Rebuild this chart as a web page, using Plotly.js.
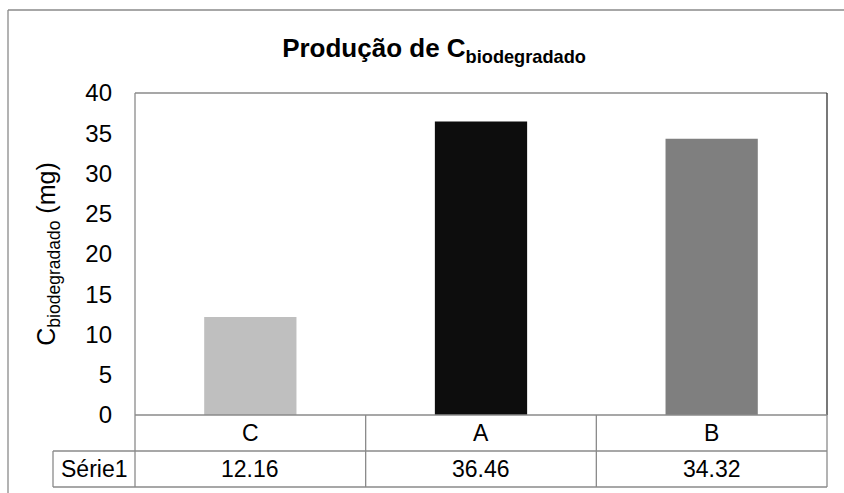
<!DOCTYPE html>
<html><head><meta charset="utf-8">
<script src="https://cdn.plot.ly/plotly-3.0.1.min.js"></script>
<style>html,body{margin:0;padding:0;background:#fff}#chart{width:844px;height:493px}</style>
</head><body><div id="chart"></div>
<script>
const categories = ['C', 'A', 'B'];
const values = [12.16, 36.46, 34.32];
const barColors = ['#BFBFBF', '#0D0D0D', '#7F7F7F'];
const seriesName = 'Série1';
const titleMain = 'Produção de C';
const titleSub = 'biodegradado';
const yTitleMain = 'C';
const yTitleSub = 'biodegradado';
const yUnit = ' (mg)';

const W = 844, H = 493;
const L = 135, R = 17, T = 93, B = 78;
const pw = W - L - R, ph = H - T - B;
const px = x => (x - L) / pw;
const py = y => (H - B - y) / ph;
const gridCol = '#8a8a8a';
const font = 'Arial, Liberation Sans, sans-serif';

const shapes = [];
function line(x0, y0, x1, y1, c, w) {
  shapes.push({type: 'line', xref: 'paper', yref: 'paper', x0: px(x0), y0: py(y0), x1: px(x1), y1: py(y1),
    line: {color: c || gridCol, width: w || 1.3}});
}
// outer frame
line(8, 10, 850, 10);
line(8, 10, 8, 500);
// plot area border
line(135, 93, 827, 93);
line(827, 93, 827, 415, '#303030');
line(135, 93, 135, 487);
// table
const rowTop = 415, rowMid = 451, rowBot = 487, labelLeft = 53;
line(135, rowTop, 827, rowTop);
line(labelLeft, rowMid, 827, rowMid);
line(labelLeft, rowBot, 827, rowBot);
line(labelLeft, rowMid, labelLeft, rowBot);
const colW = pw / categories.length;
for (let i = 1; i <= categories.length; i++) line(L + colW * i, rowTop, L + colW * i, rowBot);

const annotations = [];
categories.forEach((c, i) => {
  annotations.push({xref: 'x', yref: 'paper', x: c, y: py((rowTop + rowMid) / 2), text: c, showarrow: false,
    font: {family: font, size: 23, color: '#000'}, xanchor: 'center', yanchor: 'middle'});
  annotations.push({xref: 'x', yref: 'paper', x: c, y: py((rowMid + rowBot) / 2), text: String(values[i]), showarrow: false,
    font: {family: font, size: 23, color: '#000'}, xanchor: 'center', yanchor: 'middle'});
});
annotations.push({xref: 'paper', yref: 'paper', x: px((labelLeft + 135) / 2), y: py((rowMid + rowBot) / 2), text: seriesName,
  showarrow: false, font: {family: font, size: 23, color: '#000'}, xanchor: 'center', yanchor: 'middle'});

const data = [{
  type: 'bar', x: categories, y: values, name: seriesName,
  marker: {color: barColors, line: {width: 0}}, hoverinfo: 'none'
}];

const layout = {
  width: W, height: H,
  margin: {l: L, r: R, t: T, b: B, pad: 0},
  paper_bgcolor: '#fff', plot_bgcolor: '#fff',
  showlegend: false,
  bargap: 0.6,
  title: {text: '<b>' + titleMain + '<sub>' + titleSub + '</sub></b>', x: 434 / W, xanchor: 'center',
    y: 1 - 48 / H, yanchor: 'middle', yref: 'container', xref: 'container',
    font: {family: font, size: 26, color: '#000'}},
  xaxis: {type: 'category', showticklabels: false, ticks: '', showgrid: false, zeroline: false, showline: false,
    range: [-0.5, categories.length - 0.5]},
  yaxis: {range: [0, 40], dtick: 5, tick0: 0, showgrid: false, zeroline: false, showline: false,
    ticks: '', ticklabelstandoff: 22,
    tickfont: {family: font, size: 24, color: '#000'},
    title: {text: yTitleMain + '<sub>' + yTitleSub + '</sub>' + yUnit, standoff: 22,
      font: {family: font, size: 25, color: '#000'}}},
  shapes: shapes,
  annotations: annotations
};
Plotly.newPlot('chart', data, layout, {staticPlot: true, displayModeBar: false});
</script></body></html>
